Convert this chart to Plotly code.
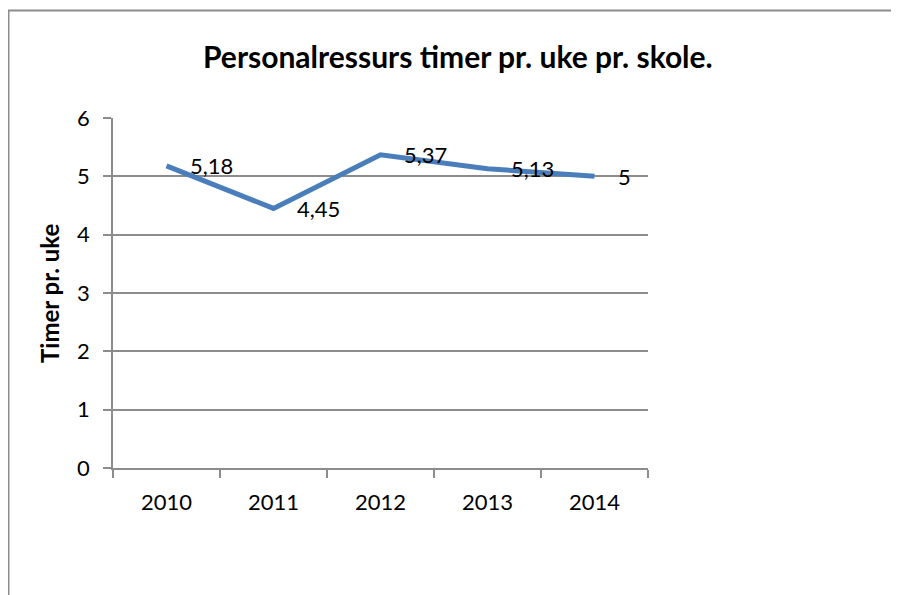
import plotly.graph_objects as go

years = ["2010", "2011", "2012", "2013", "2014"]
values = [5.18, 4.45, 5.37, 5.13, 5.0]
labels = ["5,18", "4,45", "5,37", "5,13", "5"]
title = "Personalressurs timer pr. uke pr. skole."
y_title = "Timer pr. uke"

OFF = 8  # page body margin
W, H = 899 - OFF, 595 - OFF
L, R, T, B = 113 - OFF, 648 - OFF, 118 - OFF, 468 - OFF
pw, ph = R - L, B - T

def px_x(x):
    return (x - OFF - L) / pw

def px_y(y):
    return (B - (y - OFF)) / ph

FONT = "Lato"
GRAY = "#8c8c8c"
idx = list(range(len(years)))

fig = go.Figure()
fig.add_trace(go.Scatter(
    x=years, y=values, mode="lines",
    line=dict(color="#4a7ebb", width=5),
    hoverinfo="skip", showlegend=False,
))

annotations = []
for i, v, lab in zip(idx, values, labels):
    annotations.append(dict(
        x=i, y=v, xref="x", yref="y", text=lab, showarrow=False,
        xanchor="left", yanchor="middle", xshift=21,
        font=dict(family=FONT, size=22, color="black"),
    ))
annotations.append(dict(
    x=px_x(458), y=px_y(56), xref="paper", yref="paper",
    text="<b>" + title + "</b>", showarrow=False,
    xanchor="center", yanchor="middle",
    font=dict(family=FONT, size=30, color="black"),
))
annotations.append(dict(
    x=px_x(49), y=px_y(294), xref="paper", yref="paper",
    text="<b>" + y_title + "</b>", showarrow=False, textangle=-90,
    xanchor="center", yanchor="middle",
    font=dict(family=FONT, size=24, color="black"),
))

shapes = [
    dict(type="line", xref="paper", yref="paper",
         x0=px_x(8.5), x1=px_x(8.5), y0=px_y(10), y1=px_y(610),
         line=dict(color=GRAY, width=2)),
    dict(type="line", xref="paper", yref="paper",
         x0=px_x(8), x1=px_x(910), y0=px_y(10.5), y1=px_y(10.5),
         line=dict(color=GRAY, width=2)),
]

fig.update_layout(
    width=W, height=H, autosize=False,
    margin=dict(l=L, r=W - R, t=T, b=H - B, pad=0),
    paper_bgcolor="white", plot_bgcolor="white",
    annotations=annotations, shapes=shapes,
    font=dict(family=FONT, size=22, color="black"),
    xaxis=dict(
        type="category", range=[-0.5, len(years) - 0.5],
        tickson="boundaries", ticks="outside", ticklen=8,
        tickcolor=GRAY, tickwidth=1.5, showline=True, linecolor=GRAY, linewidth=1.5,
        showgrid=False, zeroline=False, ticklabelstandoff=14, tickangle=0,
        tickfont=dict(family=FONT, size=22, color="black"),
    ),
    yaxis=dict(
        range=[0, 6], dtick=1, ticks="outside", ticklen=8, tickcolor=GRAY,
        tickwidth=1.5, showline=True, linecolor=GRAY, linewidth=1.5,
        showgrid=True, gridcolor=GRAY, gridwidth=1.5, zeroline=False,
        ticklabelstandoff=9,
        tickfont=dict(family=FONT, size=22, color="black"),
    ),
)

fig.write_html("out.html")
